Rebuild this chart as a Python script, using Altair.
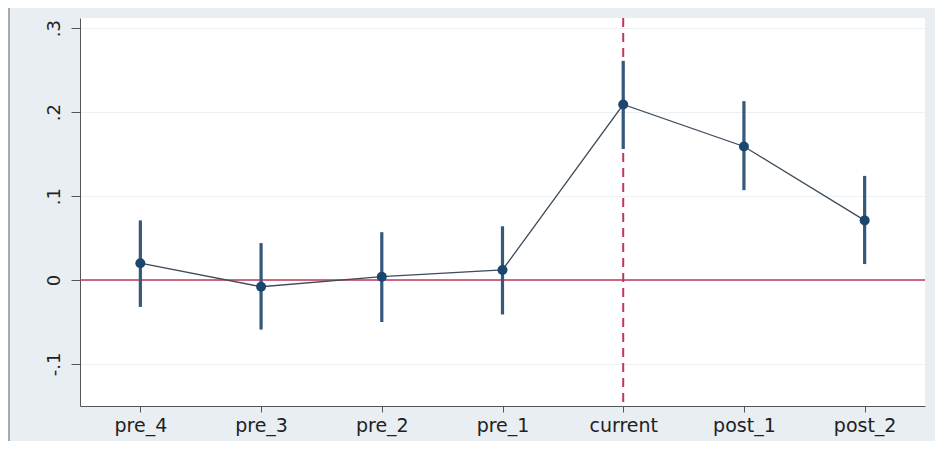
import altair as alt
import pandas as pd

periods = ["pre_4", "pre_3", "pre_2", "pre_1", "current", "post_1", "post_2"]
coef = [0.020, -0.008, 0.004, 0.012, 0.209, 0.159, 0.071]
ci_low = [-0.032, -0.059, -0.050, -0.041, 0.156, 0.107, 0.019]
ci_high = [0.071, 0.044, 0.057, 0.064, 0.261, 0.213, 0.124]
y_ticks = [-0.1, 0, 0.1, 0.2, 0.3]
event_period = ["current"]
ref_value = [0]

df = pd.DataFrame({"period": periods, "coef": coef, "lo": ci_low, "hi": ci_high,
                   "idx": list(range(len(periods)))})

xs = alt.Scale(domain=periods, type="point", padding=0.5)
ys = alt.Scale(domain=[-0.15, 0.312], nice=False, zero=False)

x_enc = alt.X("period:N", scale=xs, sort=periods,
              axis=alt.Axis(title=None, labelAngle=0, labelAlign="center", labelBaseline="top",
                            tickSize=6, labelPadding=4,
                            labelFont="DejaVu Sans", labelFontSize=19, labelColor="#222222",
                            domainColor="#555555", tickColor="#555555", grid=False))
y_axis = alt.Axis(title=None, values=y_ticks, tickSize=9, labelPadding=12,
                  labelAngle=270, labelAlign="center", labelBaseline="alphabetic",
                  labelFont="DejaVu Sans", labelFontSize=18, labelColor="#222222",
                  labelExpr="datum.value == 0 ? '0' : replace(replace(format(datum.value, '.1f'), '0.', '.'), '\u2212', '-')",
                  domainColor="#555555", tickColor="#555555",
                  grid=True, gridColor="#edf1f4", gridWidth=1)

base = alt.Chart(df)

# left border of the graph region
border = alt.Chart(pd.DataFrame({"v": [0]})).mark_rule(color="#a3abb1", strokeWidth=2).encode(
    x=alt.value(-71), y=alt.value(-10), y2=alt.value(425))

zero_line = alt.Chart(pd.DataFrame({"v": ref_value})).mark_rule(
    color="#c0375a", strokeWidth=1.5).encode(y=alt.Y("v:Q", scale=ys, axis=y_axis))

event_line = alt.Chart(pd.DataFrame({"p": event_period})).mark_rule(
    color="#c0375a", strokeWidth=2, strokeDash=[9, 6]).encode(x=alt.X("p:N", scale=xs, sort=periods))

conn = base.mark_line(color="#3d4b5a", strokeWidth=1.3).encode(
    x=x_enc, y=alt.Y("coef:Q", scale=ys), order="idx:Q")

bars = base.mark_rule(color="#34597a", strokeWidth=3.2).encode(
    x=alt.X("period:N", scale=xs, sort=periods),
    y=alt.Y("lo:Q", scale=ys), y2="hi:Q")

pts = base.mark_circle(color="#1b4670", opacity=1, size=100).encode(
    x=alt.X("period:N", scale=xs, sort=periods),
    y=alt.Y("coef:Q", scale=ys))

chart = alt.layer(border, zero_line, event_line, conn, bars, pts).properties(
    width=845, height=388,
    autosize=alt.AutoSizeParams(type="none"),
    padding={"left": 72, "top": 10, "right": 10, "bottom": 35},
    background="#e8eef2",
).configure_view(fill="white", stroke=None)

chart.save("out.html", embed_options={"renderer": "svg", "actions": False})
